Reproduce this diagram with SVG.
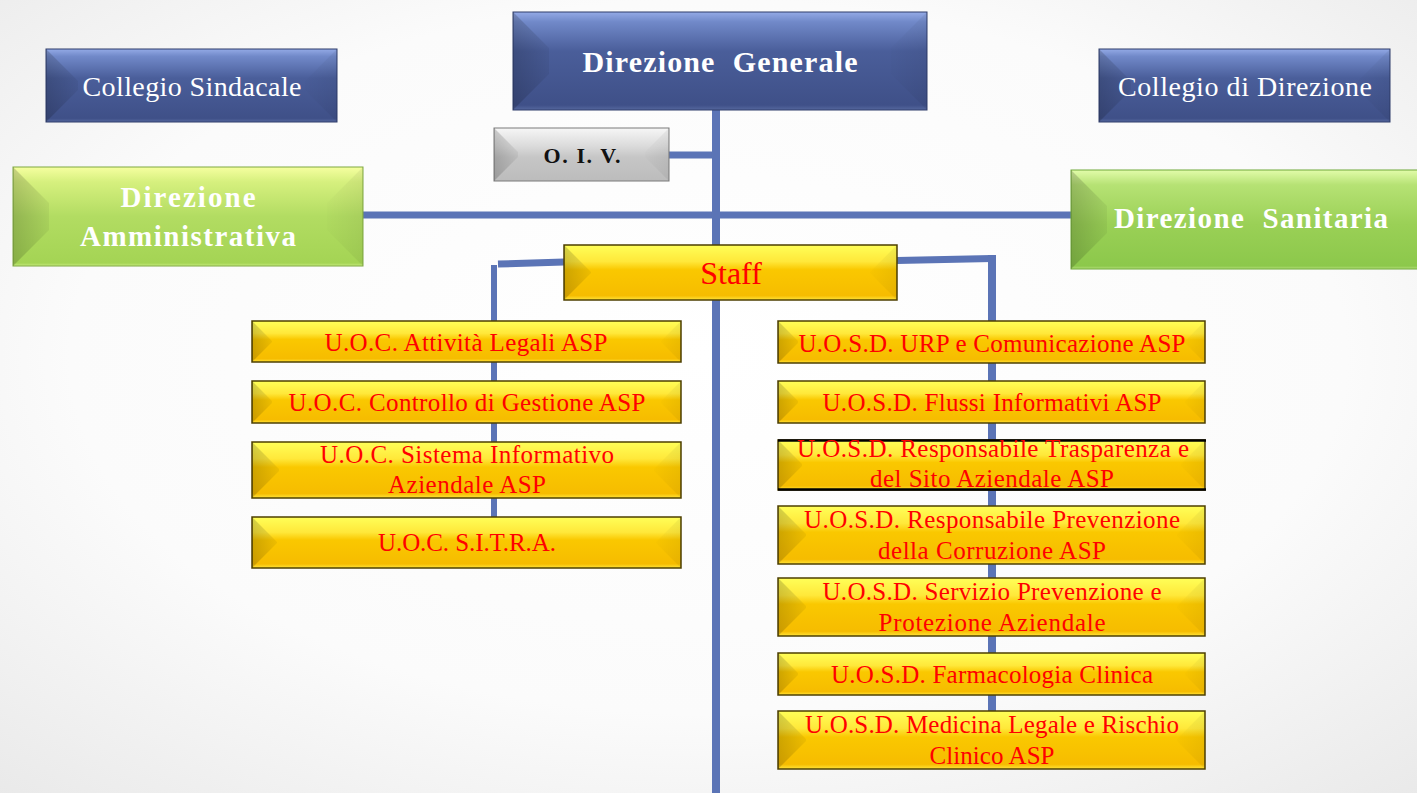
<svg xmlns="http://www.w3.org/2000/svg" width="1417" height="793" viewBox="0 0 1417 793">
  <defs>
    <radialGradient id="bg" cx="0.5" cy="0.45" r="0.75">
      <stop offset="0" stop-color="#ffffff"/>
      <stop offset="0.6" stop-color="#fbfbfb"/>
      <stop offset="1" stop-color="#e9e9e9"/>
    </radialGradient>
    <linearGradient id="gBlue" x1="0" y1="0" x2="0" y2="1">
      <stop offset="0" stop-color="#94aae6"/>
      <stop offset="0.1" stop-color="#7189c9"/>
      <stop offset="0.4" stop-color="#4a5e9a"/>
      <stop offset="0.95" stop-color="#3f5088"/>
      <stop offset="1" stop-color="#56689e"/>
    </linearGradient>
    <linearGradient id="gGreenA" x1="0" y1="0" x2="0" y2="1">
      <stop offset="0" stop-color="#f6ffa0"/>
      <stop offset="0.15" stop-color="#d6f07e"/>
      <stop offset="0.5" stop-color="#b2dc62"/>
      <stop offset="0.97" stop-color="#a4d454"/>
      <stop offset="1" stop-color="#c8ec80"/>
    </linearGradient>
    <linearGradient id="gGreenS" x1="0" y1="0" x2="0" y2="1">
      <stop offset="0" stop-color="#e2fcaa"/>
      <stop offset="0.15" stop-color="#b6e274"/>
      <stop offset="0.55" stop-color="#9ad056"/>
      <stop offset="0.97" stop-color="#8cc84b"/>
      <stop offset="1" stop-color="#b4e07a"/>
    </linearGradient>
    <linearGradient id="gGold" x1="0" y1="0" x2="0" y2="1">
      <stop offset="0" stop-color="#ffff58"/>
      <stop offset="0.3" stop-color="#ffe83a"/>
      <stop offset="0.45" stop-color="#fac800"/>
      <stop offset="0.92" stop-color="#f6bc00"/>
      <stop offset="1" stop-color="#ffe43a"/>
    </linearGradient>
    <linearGradient id="gGray" x1="0" y1="0" x2="0" y2="1">
      <stop offset="0" stop-color="#f6f6f6"/>
      <stop offset="0.35" stop-color="#dadada"/>
      <stop offset="0.55" stop-color="#c6c6c6"/>
      <stop offset="1" stop-color="#bcbcbc"/>
    </linearGradient>
    <linearGradient id="gShadeL" x1="0" y1="0" x2="1" y2="0">
      <stop offset="0" stop-color="#000" stop-opacity="0.18"/>
      <stop offset="1" stop-color="#000" stop-opacity="0.05"/>
    </linearGradient>
    <linearGradient id="gShadeR" x1="1" y1="0" x2="0" y2="0">
      <stop offset="0" stop-color="#000" stop-opacity="0.06"/>
      <stop offset="1" stop-color="#000" stop-opacity="0.01"/>
    </linearGradient>
  </defs>
  <style>
    .blue { fill: url(#gBlue); stroke: #2f3d6a; stroke-width: 1; }
    .greenA { fill: url(#gGreenA); stroke: #7fa840; stroke-width: 1; }
    .greenS { fill: url(#gGreenS); stroke: #6fa838; stroke-width: 1; }
    .gold { fill: url(#gGold); stroke: #4d3f00; stroke-width: 1.5; }
    .gray { fill: url(#gGray); stroke: #7a7a7a; stroke-width: 1; }
    .faceL { fill: url(#gShadeL); }
    .faceR { fill: url(#gShadeR); }
    .link { stroke: #5b74b6; fill: none; stroke-linecap: butt; }
    text { font-family: "Liberation Serif", serif; text-anchor: middle; }
    .hw { fill: #ffffff; font-weight: bold; font-size: 30px; }
    .hs { fill: #ffffff; font-weight: bold; font-size: 29px; }
    .lw { fill: #ffffff; font-size: 28px; }
    .red { fill: #ff0000; font-size: 25px; }
    .big { fill: #ff0000; font-size: 32px; }
    .blk { fill: #111111; font-weight: bold; font-size: 22px; }
  </style>

  <rect x="0" y="0" width="1417" height="793" fill="url(#bg)"/>

  <!-- connectors -->
  <g id="connectors">
    <path class="link" stroke-width="8" d="M716 110 V793"/>
    <path class="link" stroke-width="7" d="M669 155 H716"/>
    <path class="link" stroke-width="7" d="M363 215 H1071"/>
    <path class="link" stroke-width="7" d="M498 264 L564 262"/>
    <path class="link" stroke-width="6" d="M494 265 V540"/>
    <path class="link" stroke-width="7" d="M897 260.5 L992 258.5"/>
    <path class="link" stroke-width="8" d="M992 255 V740"/>
  </g>

  <!-- top level -->
  <g id="direzione-generale">
    <rect class="blue" x="513" y="12" width="414" height="98"/>
    <path class="faceL" d="M513 12 L549 48 L549 74 L513 110Z"/>
    <path class="faceR" d="M927 12 L891 48 L891 74 L927 110Z"/>
    <text class="hw" x="720" y="72" textLength="275">Direzione&#160; Generale</text>
  </g>

  <g id="collegio-sindacale">
    <rect class="blue" x="46" y="49" width="291" height="73"/>
    <path class="faceL" d="M46 49 L78 81 L78 90 L46 122Z"/>
    <path class="faceR" d="M337 49 L305 81 L305 90 L337 122Z"/>
    <text class="lw" x="192" y="96" textLength="219">Collegio Sindacale</text>
  </g>

  <g id="collegio-direzione">
    <rect class="blue" x="1099" y="49" width="291" height="73"/>
    <path class="faceL" d="M1099 49 L1131 81 L1131 90 L1099 122Z"/>
    <path class="faceR" d="M1390 49 L1358 81 L1358 90 L1390 122Z"/>
    <text class="lw" x="1245" y="96" textLength="254">Collegio di Direzione</text>
  </g>

  <g id="oiv">
    <rect class="gray" x="494" y="128" width="175" height="53"/>
    <path class="faceL" d="M494 128 L518 152 L518 157 L494 181Z"/>
    <path class="faceR" d="M669 128 L645 152 L645 157 L669 181Z"/>
    <text class="blk" x="582" y="163" textLength="77">O. I. V.</text>
  </g>

  <g id="direzione-amministrativa">
    <rect class="greenA" x="13" y="167" width="350" height="99"/>
    <path class="faceL" d="M13 167 L49 203 L49 230 L13 266Z"/>
    <path class="faceR" d="M363 167 L327 203 L327 230 L363 266Z"/>
    <text class="hs" x="188" y="207" textLength="135">Direzione</text>
    <text class="hs" x="188" y="246" textLength="216">Amministrativa</text>
  </g>

  <g id="direzione-sanitaria">
    <rect class="greenS" x="1071" y="170" width="360" height="99"/>
    <path class="faceL" d="M1071 170 L1107 206 L1107 233 L1071 269Z"/>
    <text class="hs" x="1251" y="228" textLength="274">Direzione&#160; Sanitaria</text>
  </g>

  <g id="staff">
    <rect class="gold" x="564" y="245" width="333" height="55"/>
    <path class="faceL" d="M564 245 L591 272 L591 273 L564 300Z"/>
    <path class="faceR" d="M897 245 L870 272 L870 273 L897 300Z"/>
    <text class="big" x="731" y="284">Staff</text>
  </g>

  <!-- U.O.C. column -->
  <g id="uoc-attivita-legali">
    <rect class="gold" x="252" y="321" width="429" height="41"/>
    <path class="faceL" d="M252 321 L272 341 L272 342 L252 362Z"/>
    <path class="faceR" d="M681 321 L661 341 L661 342 L681 362Z"/>
    <text class="red" x="466" y="351" textLength="283">U.O.C. Attività Legali ASP</text>
  </g>

  <g id="uoc-controllo-gestione">
    <rect class="gold" x="252" y="381" width="429" height="42"/>
    <path class="faceL" d="M252 381 L272 401 L272 403 L252 423Z"/>
    <path class="faceR" d="M681 381 L661 401 L661 403 L681 423Z"/>
    <text class="red" x="467" y="411" textLength="357">U.O.C. Controllo di Gestione ASP</text>
  </g>

  <g id="uoc-sistema-informativo">
    <rect class="gold" x="252" y="442" width="429" height="56"/>
    <path class="faceL" d="M252 442 L279 469 L279 471 L252 498Z"/>
    <path class="faceR" d="M681 442 L654 469 L654 471 L681 498Z"/>
    <text class="red" x="467" y="463" textLength="294">U.O.C. Sistema Informativo</text>
    <text class="red" x="467" y="493" textLength="158">Aziendale ASP</text>
  </g>

  <g id="uoc-sitra">
    <rect class="gold" x="252" y="517" width="429" height="51"/>
    <path class="faceL" d="M252 517 L277 542 L277 543 L252 568Z"/>
    <path class="faceR" d="M681 517 L656 542 L656 543 L681 568Z"/>
    <text class="red" x="467" y="551" textLength="178">U.O.C. S.I.T.R.A.</text>
  </g>

  <!-- U.O.S.D. column -->
  <g id="uosd-urp">
    <rect class="gold" x="778" y="321" width="427" height="42"/>
    <path class="faceL" d="M778 321 L798 341 L798 343 L778 363Z"/>
    <path class="faceR" d="M1205 321 L1185 341 L1185 343 L1205 363Z"/>
    <text class="red" x="992" y="352" textLength="387">U.O.S.D. URP e Comunicazione ASP</text>
  </g>

  <g id="uosd-flussi">
    <rect class="gold" x="778" y="381" width="427" height="42"/>
    <path class="faceL" d="M778 381 L798 401 L798 403 L778 423Z"/>
    <path class="faceR" d="M1205 381 L1185 401 L1185 403 L1205 423Z"/>
    <text class="red" x="992" y="411" textLength="339">U.O.S.D. Flussi Informativi ASP</text>
  </g>

  <g id="uosd-trasparenza">
    <rect class="gold" x="778" y="440" width="427" height="50"/>
    <path class="faceL" d="M778 440 L802 464 L802 466 L778 490Z"/>
    <path class="faceR" d="M1205 440 L1181 464 L1181 466 L1205 490Z"/>
    <path d="M778 440.5 H1206 M778 489.5 H1206" stroke="#000" stroke-width="2.5" fill="none"/>
    <text class="red" x="993" y="457" textLength="392">U.O.S.D. Responsabile Trasparenza e</text>
    <text class="red" x="992" y="487" textLength="244">del Sito Aziendale ASP</text>
  </g>

  <g id="uosd-anticorruzione">
    <rect class="gold" x="778" y="506" width="427" height="58"/>
    <path class="faceL" d="M778 506 L806 534 L806 536 L778 564Z"/>
    <path class="faceR" d="M1205 506 L1177 534 L1177 536 L1205 564Z"/>
    <text class="red" x="992" y="528" textLength="376">U.O.S.D. Responsabile Prevenzione</text>
    <text class="red" x="992" y="559" textLength="228">della Corruzione ASP</text>
  </g>

  <g id="uosd-prevenzione-protezione">
    <rect class="gold" x="778" y="578" width="427" height="58"/>
    <path class="faceL" d="M778 578 L806 606 L806 608 L778 636Z"/>
    <path class="faceR" d="M1205 578 L1177 606 L1177 608 L1205 636Z"/>
    <text class="red" x="992" y="600" textLength="339">U.O.S.D. Servizio Prevenzione e</text>
    <text class="red" x="992" y="631" textLength="227">Protezione Aziendale</text>
  </g>

  <g id="uosd-farmacologia">
    <rect class="gold" x="778" y="653" width="427" height="42"/>
    <path class="faceL" d="M778 653 L798 673 L798 675 L778 695Z"/>
    <path class="faceR" d="M1205 653 L1185 673 L1185 675 L1205 695Z"/>
    <text class="red" x="992" y="683" textLength="322">U.O.S.D. Farmacologia Clinica</text>
  </g>

  <g id="uosd-medicina-legale">
    <rect class="gold" x="778" y="711" width="427" height="58"/>
    <path class="faceL" d="M778 711 L806 739 L806 741 L778 769Z"/>
    <path class="faceR" d="M1205 711 L1177 739 L1177 741 L1205 769Z"/>
    <text class="red" x="992" y="733" textLength="374">U.O.S.D. Medicina Legale e Rischio</text>
    <text class="red" x="992" y="764" textLength="125">Clinico ASP</text>
  </g>
</svg>
